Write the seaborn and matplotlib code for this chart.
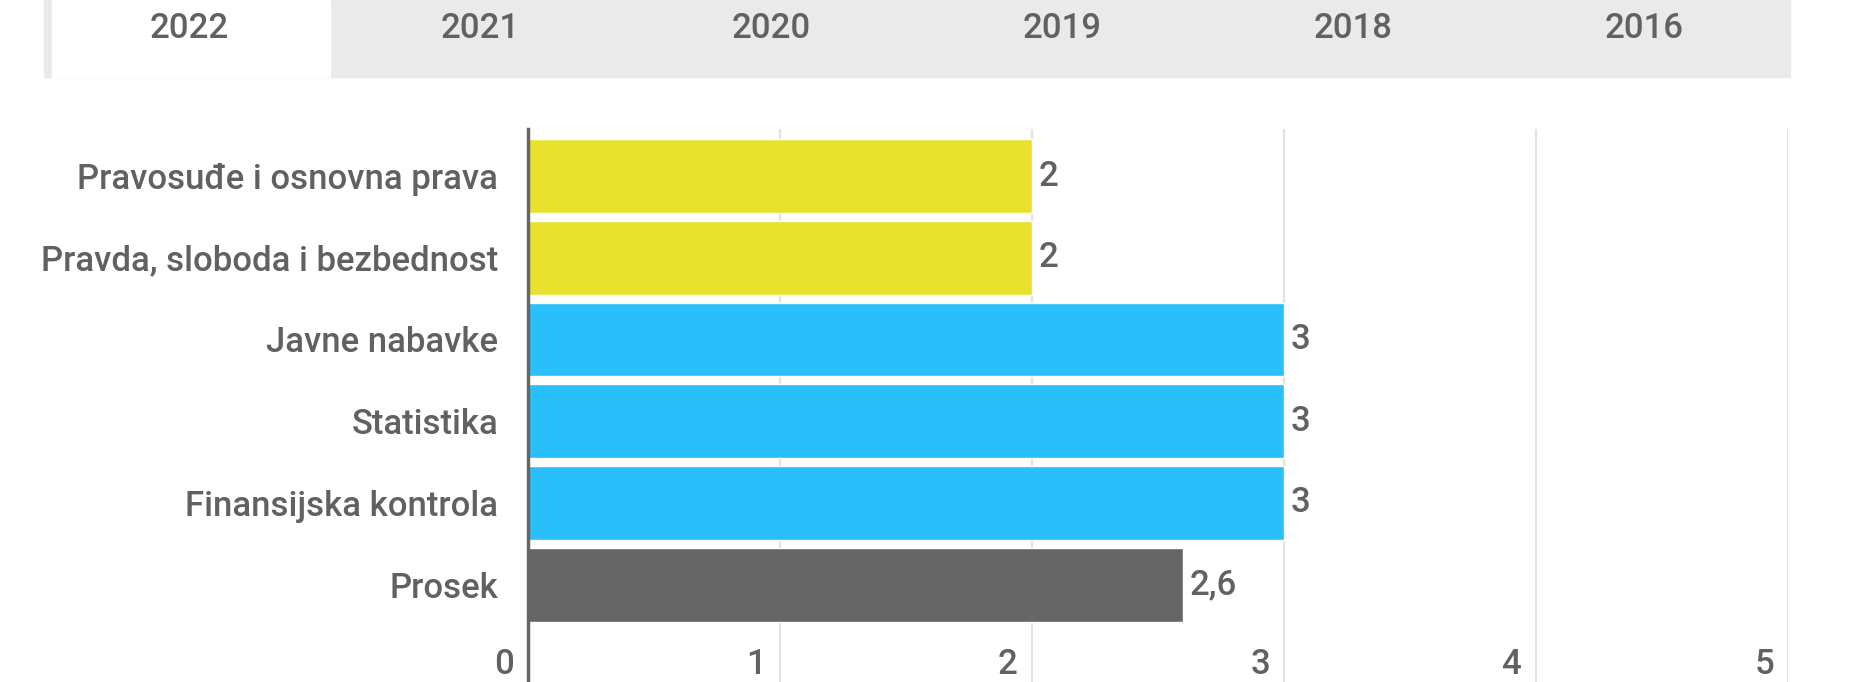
import seaborn as sns
from matplotlib import pyplot as plt
from matplotlib.patches import Rectangle
import matplotlib.transforms as mtransforms
import pandas as pd

categories = ['Pravosuđe i osnovna prava', 'Pravda, sloboda i bezbednost',
              'Javne nabavke', 'Statistika', 'Finansijska kontrola', 'Prosek']
values = [2, 2, 3, 3, 3, 2.6]
groups = ['yellow', 'yellow', 'blue', 'blue', 'blue', 'avg']
years = ['2022', '2021', '2020', '2019', '2018', '2016']
xticks = [0, 1, 2, 3, 4, 5]

colors = {'yellow': '#E8E22E', 'blue': '#29BFFA', 'avg': '#666666'}
txt = '#616161'
fs = 25

sns.set_theme(style='white')
plt.rcParams['font.family'] = ['Roboto', 'DejaVu Sans']

df = pd.DataFrame({'cat': categories, 'val': values, 'grp': groups})

W, H = 1867, 682
fig = plt.figure(figsize=(W / 100, H / 100), dpi=100)
ax = fig.add_axes([527.5 / W, 0, (1788 - 527.5) / W, (682 - 128.6) / H])

sns.barplot(data=df, y='cat', x='val', hue='grp', palette=colors, dodge=False,
            width=0.9, legend=False, ax=ax, saturation=1)

for c in ax.containers:
    labels = [('%g' % v.get_width()).replace('.', ',') for v in c]
    ax.bar_label(c, labels=labels, padding=5, fontsize=fs, color=txt,
                 fontweight='medium')

ax.set_xlim(0, 5)
ax.set_ylim(6.19, -0.58)
ax.set_xlabel('')
ax.set_ylabel('')
ax.set_xticks(xticks)
ax.set_xticklabels([])
ax.tick_params(axis='both', length=0)
ax.tick_params(axis='y', pad=21, labelsize=fs, labelcolor=txt)
for lab in ax.get_yticklabels():
    lab.set_fontweight('medium')
ax.xaxis.grid(True, color='#e2e2e2', linewidth=1.5)
ax.set_axisbelow(True)
for s in ['top', 'right', 'bottom']:
    ax.spines[s].set_visible(False)
ax.spines['left'].set_color('#666666')
ax.spines['left'].set_linewidth(2.5)
ax.spines['left'].set_zorder(5)

# x tick labels sit inside the plot, left of each gridline
for t in xticks:
    off = mtransforms.offset_copy(ax.transData, fig=fig, x=-10, y=0, units='points')
    ax.text(t, 5.97, str(t), transform=off, ha='right', va='center',
            fontsize=fs, color=txt, fontweight='medium')

# year tabs
tab_l, tab_r, tab_h = 44, 1790, 77
tab_w = (tab_r - tab_l) / len(years)
fig.patches.append(Rectangle((tab_l / W, 1 - tab_h / H), (tab_r - tab_l) / W, tab_h / H,
                             transform=fig.transFigure, color='#eaeaea', zorder=0))
fig.patches.append(Rectangle((52 / W, 1 - tab_h / H), (330 - 52) / W, tab_h / H,
                             transform=fig.transFigure, color='white', zorder=1))
for i, y in enumerate(years):
    fig.text((tab_l + tab_w * (i + 0.5)) / W, 1 - 29 / H, y, ha='center', va='center',
             fontsize=fs, color=txt, fontweight='medium')

plt.savefig('out.png', dpi=100)
